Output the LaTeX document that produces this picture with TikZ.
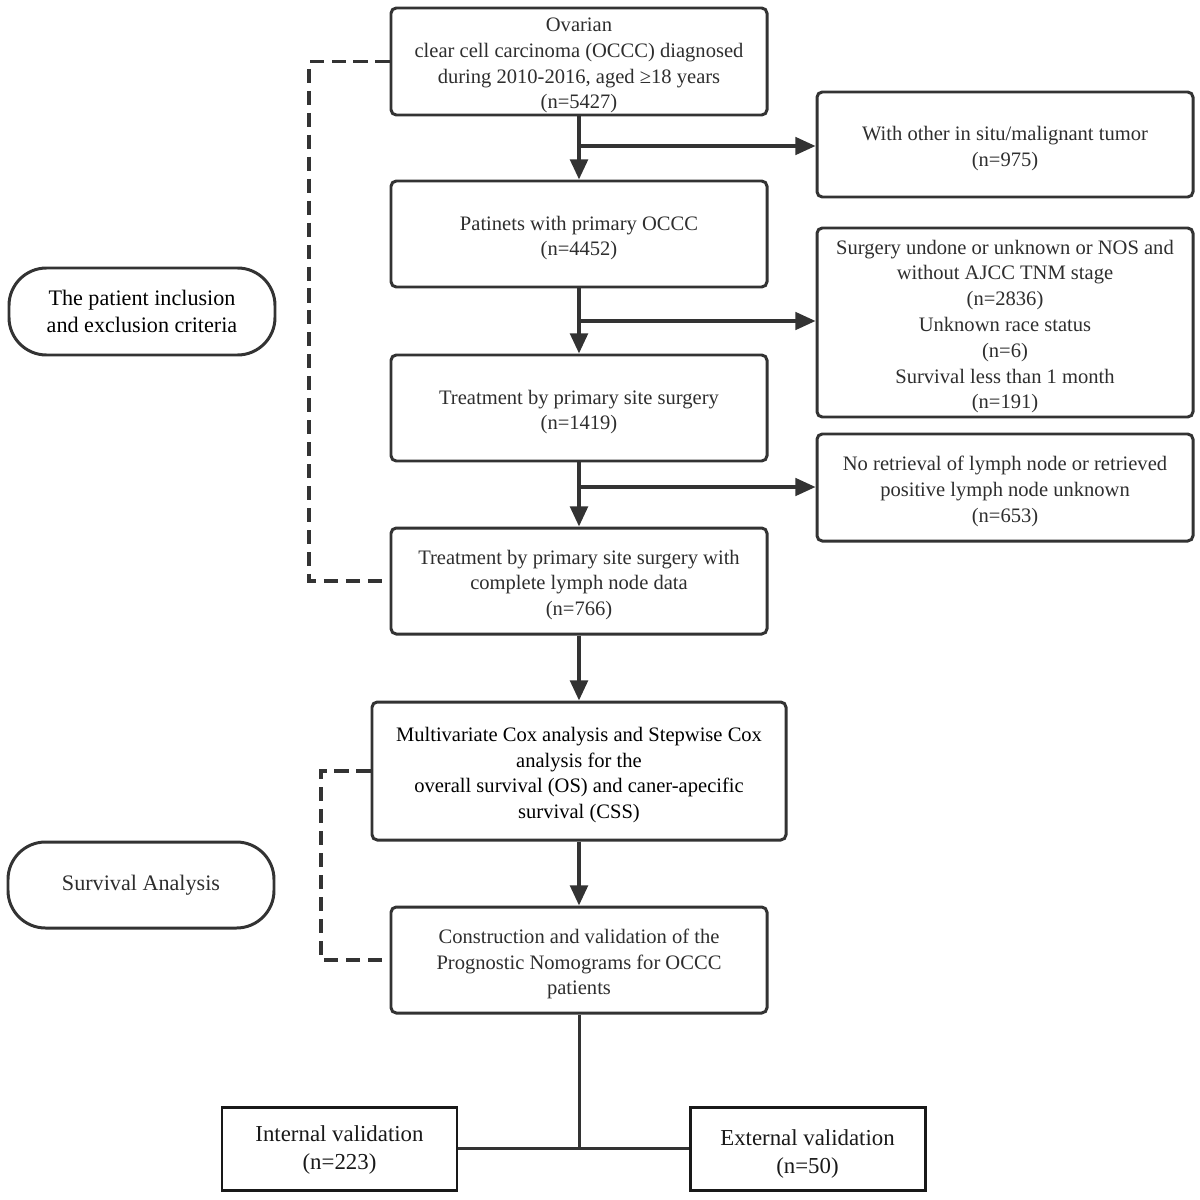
\documentclass[tikz,border=0pt]{standalone}
\usepackage{fontspec}
\setmainfont{Liberation Serif}
\usetikzlibrary{arrows.meta,positioning}
\definecolor{ln}{HTML}{333333}
\definecolor{tx}{HTML}{2E2E2E}
\begin{document}
\begin{tikzpicture}[x=0.02cm,y=-0.02cm,
  box/.style={draw=ln,line width=1.7pt,rounded corners=3pt,inner sep=0pt},
  txt/.style={align=center,text=tx,inner sep=0pt,font=\fontsize{11.7pt}{14.7pt}\selectfont},
  sqbox/.style={draw=black!90,line width=1.7pt,inner sep=0pt},
  sqtxt/.style={align=center,text=black!90,inner sep=0pt,font=\fontsize{13pt}{15.9pt}\selectfont},
  pill/.style={draw=ln,line width=1.7pt,rounded corners=0.75cm,align=center,text=black,inner sep=0pt,font=\fontsize{12.6pt}{15.2pt}\selectfont},
  arr/.style={draw=ln,line width=2.2pt,-{Triangle[length=11.5pt,width=10pt]}},
  barr/.style={draw=ln,line width=1.8pt,-{Triangle[length=11.5pt,width=10pt]}},
  ln/.style={draw=ln,line width=1.7pt},
  dsh/.style={draw=ln,line width=1.8pt,dash pattern=on 8pt off 4.5pt}]
\useasboundingbox[fill=white] (0,0) rectangle (1200,1200);

% main column
\node[box,minimum width=376*0.02cm,minimum height=107*0.02cm] (b1) at (579,61.5) {};
\node[txt] (t1) at ([yshift=-2.3pt]b1.center)
  {Ovarian\\clear cell carcinoma (OCCC) diagnosed\\during 2010-2016, aged ≥18 years\\(n=5427)};
\node[box,minimum width=376*0.02cm,minimum height=106*0.02cm] (b2) at (579,234) {};
\node[txt] (t2) at ([yshift=-2.3pt]b2.center)
  {Patinets with primary OCCC\\(n=4452)};
\node[box,minimum width=376*0.02cm,minimum height=106*0.02cm] (b3) at (579,408) {};
\node[txt] (t3) at ([yshift=-2.3pt]b3.center)
  {Treatment by primary site surgery\\(n=1419)};
\node[box,minimum width=376*0.02cm,minimum height=106*0.02cm] (b4) at (579,581) {};
\node[txt] (t4) at ([yshift=-2.3pt]b4.center)
  {Treatment by primary site surgery with\\complete lymph node data\\(n=766)};
\node[box,minimum width=414*0.02cm,minimum height=138*0.02cm] (m) at (579,771) {};
\node[txt,text=black] (tm) at ([yshift=-2.3pt]m.center)
  {Multivariate Cox analysis and Stepwise Cox\\analysis for the\\overall survival (OS) and caner-apecific\\survival (CSS)};
\node[box,minimum width=376*0.02cm,minimum height=106*0.02cm] (c) at (579,960) {};
\node[txt] (tc) at ([yshift=-2.3pt]c.center)
  {Construction and validation of the\\Prognostic Nomograms for OCCC\\patients};

% right column
\node[box,minimum width=376*0.02cm,minimum height=105*0.02cm] (r1) at (1005,144.5) {};
\node[txt] (tr1) at ([yshift=-2.3pt]r1.center)
  {With other in situ/malignant tumor\\(n=975)};
\node[box,minimum width=376*0.02cm,minimum height=189*0.02cm] (r2) at (1005,322.5) {};
\node[txt] (tr2) at ([yshift=-2.3pt]r2.center)
  {Surgery undone or unknown or NOS and\\without AJCC TNM stage\\(n=2836)\\Unknown race status\\(n=6)\\Survival less than 1 month\\(n=191)};
\node[box,minimum width=376*0.02cm,minimum height=107*0.02cm] (r3) at (1005,487.5) {};
\node[txt] (tr3) at ([yshift=-2.3pt]r3.center)
  {No retrieval of lymph node or retrieved\\positive lymph node unknown\\(n=653)};

% left pills
\node[pill,minimum width=266*0.02cm,minimum height=87*0.02cm] (p1) at (142,311.5)
  {The patient inclusion\\and exclusion criteria};
\node[pill,minimum width=266*0.02cm,minimum height=86*0.02cm,text=tx] (p2) at (141,885)
  {Survival Analysis};

% bottom boxes
\node[sqbox,minimum width=235*0.02cm,minimum height=83*0.02cm] (iv) at (339.5,1148.5) {};
\node[sqtxt] (tiv) at ([yshift=-1pt]iv.center) {Internal validation\\(n=223)};
\node[sqbox,minimum width=235*0.02cm,minimum height=83*0.02cm] (ev) at (807.5,1148.5) {};
\node[sqtxt] (tev) at ([yshift=-2.9pt]ev.center) {External validation\\(n=50)};

% vertical arrows
\draw[arr] (b1) -- (b2);
\draw[arr] (b2) -- (b3);
\draw[arr] (b3) -- (b4);
\draw[arr] (b4) -- (m);
\draw[arr] (m) -- (c);

% branches
\coordinate (j1) at (579,146);
\coordinate (j2) at (579,321);
\coordinate (j3) at (579,487);
\draw[barr] (j1) -- (j1 -| r1.west);
\draw[barr] (j2) -- (j2 -| r2.west);
\draw[barr] (j3) -- (j3 -| r3.west);

% dashed brackets
\coordinate (d1) at (309,0);
\coordinate (d2) at (321,0);
\draw[dsh] (b1.west) -- (b1.west -| d1) |- (b4.west);
\draw[dsh] (m.west) -- (m.west -| d2) |- (c.west);

% bottom split
\draw[ln] (c.south) -- (c.south |- iv.east);
\draw[ln] (iv.east) -- (ev.west);
\end{tikzpicture}
\end{document}
